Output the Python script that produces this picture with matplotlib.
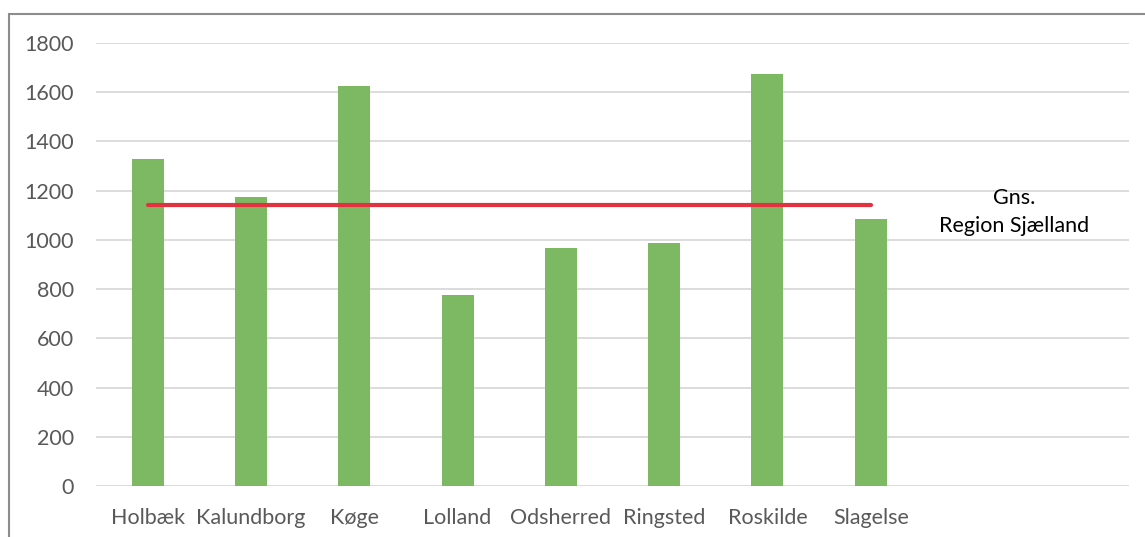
import matplotlib
matplotlib.use("Agg")
import matplotlib.pyplot as plt
from matplotlib.patches import Rectangle

categories = ["Holbæk", "Kalundborg", "Køge", "Lolland", "Odsherred",
              "Ringsted", "Roskilde", "Slagelse", "", ""]
values = [1329, 1174, 1625, 776, 967, 987, 1674, 1085]
average = [1142] * 8
yticks = [0, 200, 400, 600, 800, 1000, 1200, 1400, 1600, 1800]
avg_label = "Gns.\nRegion Sjælland"

plt.rcParams['font.family'] = ['Lato', 'DejaVu Sans']

fig = plt.figure(figsize=(11.45, 5.37), dpi=100)
ax = fig.add_axes([96/1145, 1-486/537, (1129-96)/1145, (486-43)/537])

x = list(range(len(categories)))
ax.bar(x[:len(values)], values, width=0.31, color="#7db963", zorder=3)
ax.plot(x[:len(average)], average, color="#e2323f", lw=3.0,
        solid_capstyle="round", zorder=4)

ax.set_xlim(-0.5, len(categories) - 0.5)
ax.set_ylim(0, 1800)
ax.set_yticks(yticks)
ax.set_yticklabels([str(t) for t in yticks])
ax.set_xticks(x)
ax.set_xticklabels(categories)
ax.tick_params(axis="both", length=0, labelsize=15.5, colors="#595959")
ax.tick_params(axis="y", pad=16)
ax.tick_params(axis="x", pad=16)
ax.grid(axis="y", color="#d9d9d9", lw=1.3, zorder=0)
for s in ax.spines.values():
    s.set_visible(False)

ax.text(8.39, 1113, avg_label, ha="center", va="center",
        multialignment="center", fontsize=15.5, color="black", linespacing=1.45)

fig.patches.append(Rectangle((8.5/1145, -0.2), 1.2, 1.2 - 14/537,
                             transform=fig.transFigure, fill=False,
                             edgecolor="#8c8c8c", lw=1.5))

fig.savefig("out.png", dpi=100)
